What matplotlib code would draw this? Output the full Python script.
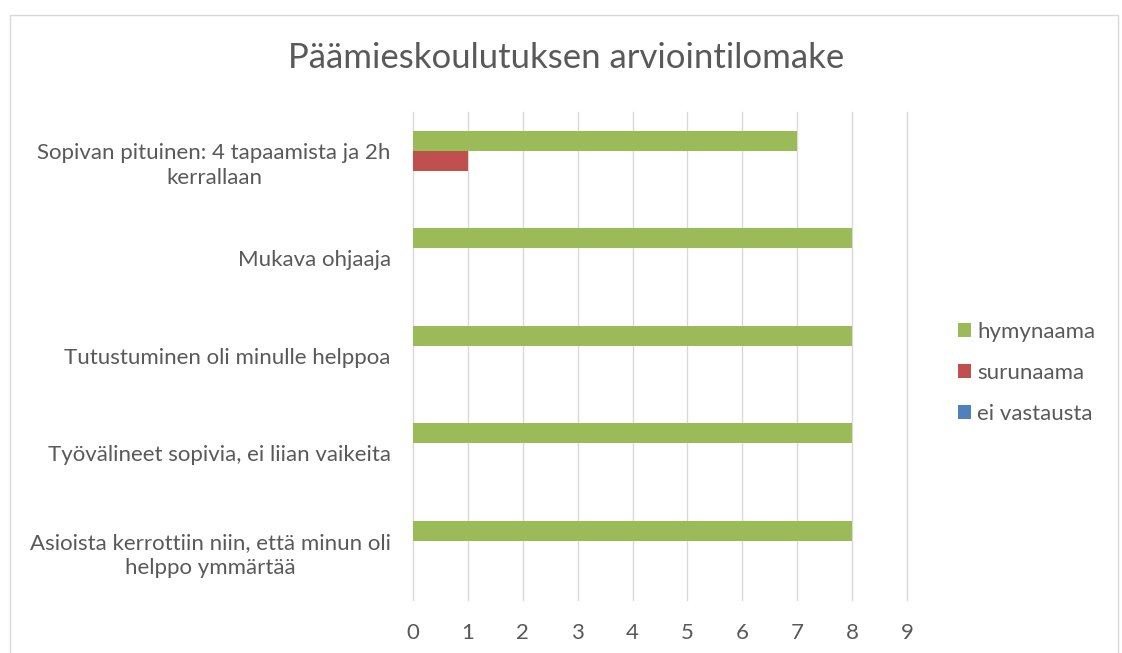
import numpy as np
import matplotlib
matplotlib.use("Agg")
import matplotlib.pyplot as plt
from matplotlib.patches import Rectangle

plt.rcParams["font.family"] = ["Lato", "DejaVu Sans"]

# Data (bottom to top as drawn)
categories = [
    "Asioista kerrottiin niin, että minun oli\nhelppo ymmärtää",
    "Työvälineet sopivia, ei liian vaikeita",
    "Tutustuminen oli minulle helppoa",
    "Mukava ohjaaja",
    "Sopivan pituinen: 4 tapaamista ja 2h\nkerrallaan",
]
hymynaama = [8, 8, 8, 8, 7]
surunaama = [0, 0, 0, 0, 1]
ei_vastausta = [0, 0, 0, 0, 0]

series_names = ["hymynaama", "surunaama", "ei vastausta"]
colors = ["#9BBB59", "#C0504D", "#4F81BD"]
title_text = "Päämieskoulutuksen arviointilomake"
text_gray = "#595959"

W, H = 1122, 653
fig = plt.figure(figsize=(W / 100, H / 100), dpi=100)

# chart border
fig.patches.append(Rectangle((10 / W, -0.05), 1108 / W, 1 - 15 / H + 0.05,
                             transform=fig.transFigure, fill=False,
                             edgecolor="#d9d9d9", linewidth=1))

ax = fig.add_axes([413 / W, 1 - 599.5 / H, (907 - 413) / W, (599.5 - 112) / H])

y = np.arange(len(categories))
h = 0.205
for vals, off, name, c in zip([hymynaama, surunaama, ei_vastausta],
                              [h, 0, -h], series_names, colors):
    ax.barh(y + off, vals, height=h, color=c, label=name, zorder=3)

ax.set_xlim(0, 9)
ax.set_ylim(-0.5, len(categories) - 0.5)
ax.set_xticks(range(0, 10))
ax.set_yticks(y)
ax.set_yticklabels(categories, ha="right", multialignment="center",
                   linespacing=1.35)
ax.grid(axis="x", color="#d9d9d9", linewidth=1, zorder=0)
for gl in ax.get_xgridlines():
    gl.set_clip_on(False)
for s in ax.spines.values():
    s.set_visible(False)
ax.tick_params(axis="both", length=0, colors=text_gray, labelsize=16)
ax.tick_params(axis="x", pad=17)
ax.tick_params(axis="y", pad=16)

fig.text(566 / W, 1 - 58 / H, title_text, ha="center", va="center",
         fontsize=25, color=text_gray)

leg = fig.legend(loc="center left", bbox_to_anchor=(938 / W, 1 - 373 / H),
                 frameon=False, fontsize=16, handlelength=0.6, handleheight=0.6,
                 handletextpad=0.25, labelspacing=0.95, labelcolor=text_gray)

fig.savefig("out.png", dpi=100)
